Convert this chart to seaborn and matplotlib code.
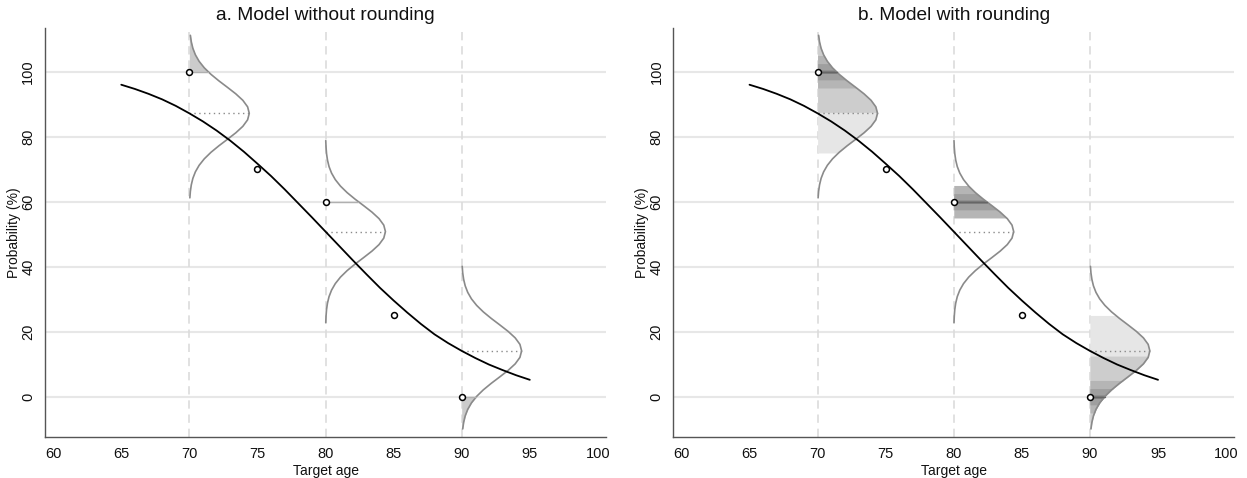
import numpy as np
import seaborn as sns
import matplotlib
matplotlib.use('Agg')
import matplotlib.pyplot as plt

# observed answers (target age, reported probability)
ages = [70, 75, 80, 85, 90]
answers = [100, 70, 60, 25, 0]

# fitted curve at every year
curve_age = list(range(65, 96))
curve_prob = [96.0, 94.7, 93.2, 91.5, 89.5, 87.2, 84.7, 81.9, 78.8, 75.4,
              71.7, 67.9, 63.8, 59.5, 55.2, 50.8, 46.4, 42.0, 37.7, 33.5,
              29.6, 25.9, 22.4, 19.2, 16.5, 14.1, 11.9, 9.9, 8.2, 6.6, 5.2]

# densities drawn at three target ages
dens_age = [70, 80, 90]
dens_answer = [100, 60, 0]
dens_mean = [87.2, 50.8, 14.1]
dens_from = [-26, -28, -24]
dens_to = [24, 28, 26]

# shape of one density: offset from the mean (pp) and width (years)
shape_dy = [-28, -26, -24, -22, -20, -18, -16, -14, -12, -10, -8, -6, -4, -2, 0,
            2, 4, 6, 8, 10, 12, 14, 16, 18, 20, 22, 24, 26, 28]
shape_w = [0.017, 0.037, 0.074, 0.143, 0.258, 0.443, 0.717, 1.097, 1.586, 2.166,
           2.796, 3.409, 3.928, 4.277, 4.400, 4.277, 3.928, 3.409, 2.796, 2.166,
           1.586, 1.097, 0.717, 0.443, 0.258, 0.143, 0.074, 0.037, 0.017]

# rounding intervals (half width) and their shades
round_half = [25, 12.5, 5, 2.5, 0.5]
round_color = ['#e6e6e6', '#cdcdcd', '#b5b5b5', '#9f9f9f', '#7e7e7e']

titles = ['a. Model without rounding', 'b. Model with rounding']

sns.set_theme(style='white')
plt.rcParams['font.family'] = ['Liberation Sans', 'DejaVu Sans']

fig = plt.figure(figsize=(12.47, 4.78), dpi=100)
ax_a = fig.add_axes([0.0361, 0.0851, 0.4499, 0.8556])
ax_b = fig.add_axes([0.5399, 0.0851, 0.4499, 0.8556])

outline = '#8a8a8a'


def width_at(i, y):
    return dens_age[i] + np.interp(np.asarray(y) - dens_mean[i], shape_dy, shape_w)


def fill_band(ax, i, lo, hi, color):
    top = dens_mean[i] + dens_to[i]
    bot = dens_mean[i] + dens_from[i]
    lo = max(lo, bot)
    hi = min(hi, top)
    if hi <= lo:
        return
    ys = [lo] + [dens_mean[i] + d for d in shape_dy if lo < dens_mean[i] + d < hi] + [hi]
    ax.fill_betweenx(ys, dens_age[i], width_at(i, ys), color=color, lw=0, zorder=2)


for k, ax in enumerate([ax_a, ax_b]):
    # grid
    for g in range(0, 101, 20):
        ax.axhline(g, color='#e7e7e7', lw=1.5, zorder=0)
    for a in dens_age:
        ax.axvline(a, color='#dcdcdc', lw=1.2, ls=(0, (5, 3.5)), zorder=0)

    for i in range(len(dens_age)):
        r = dens_answer[i]
        if k == 0:
            # share of the density beyond the bounds
            if r == 100:
                fill_band(ax, i, 100, 200, '#cbcbcb')
            if r == 0:
                fill_band(ax, i, -100, 0, '#cbcbcb')
        else:
            for h, c in zip(round_half, round_color):
                if r % (2 * h) == 0:
                    fill_band(ax, i, r - h, r + h, c)

        # density outline
        sel = [j for j, d in enumerate(shape_dy) if dens_from[i] <= d <= dens_to[i]]
        xs = [dens_age[i] + shape_w[j] for j in sel]
        ys = [dens_mean[i] + shape_dy[j] for j in sel]
        ax.plot(xs, ys, color=outline, lw=1.2, zorder=3)
        # mean of the density
        ax.plot([dens_age[i], dens_age[i] + max(shape_w)], [dens_mean[i]] * 2,
                color=outline, lw=1, ls=(0, (1, 2.5)), zorder=3)
        # reported answer
        line_col = '#b0b0b0' if k == 0 else '#666666'
        ax.plot([dens_age[i], width_at(i, r)], [r, r], color=line_col, lw=1, zorder=3)

    sns.lineplot(x=curve_age, y=curve_prob, color='black', lw=1.3, ax=ax, zorder=4)
    sns.scatterplot(x=ages, y=answers, marker='o', s=18, facecolor='white',
                    edgecolor='black', linewidth=1.1, ax=ax, zorder=5)

    ax.set_xlim(59.4, 100.6)
    ax.set_ylim(-12.5, 113.35)
    ax.set_xticks(range(60, 101, 5))
    ax.set_yticks(range(0, 101, 20))
    ax.tick_params(axis='both', direction='out', length=4, width=1, color='#555555',
                   labelsize=10.5, pad=3, labelcolor='#111111')
    ax.tick_params(axis='y', labelrotation=90)
    for lab in ax.get_yticklabels():
        lab.set_va('center')
    for s in ['top', 'right']:
        ax.spines[s].set_visible(False)
    for s in ['left', 'bottom']:
        ax.spines[s].set_color('#555555')
        ax.spines[s].set_linewidth(1)
    ax.set_xlabel('Target age', fontsize=10, labelpad=2, color='#111111')
    ax.set_ylabel('Probability (%)', fontsize=10, labelpad=0.5, color='#111111')
    ax.set_title(titles[k], fontsize=13.8, pad=6, color='#111111')

plt.savefig('out.png', dpi=100)
